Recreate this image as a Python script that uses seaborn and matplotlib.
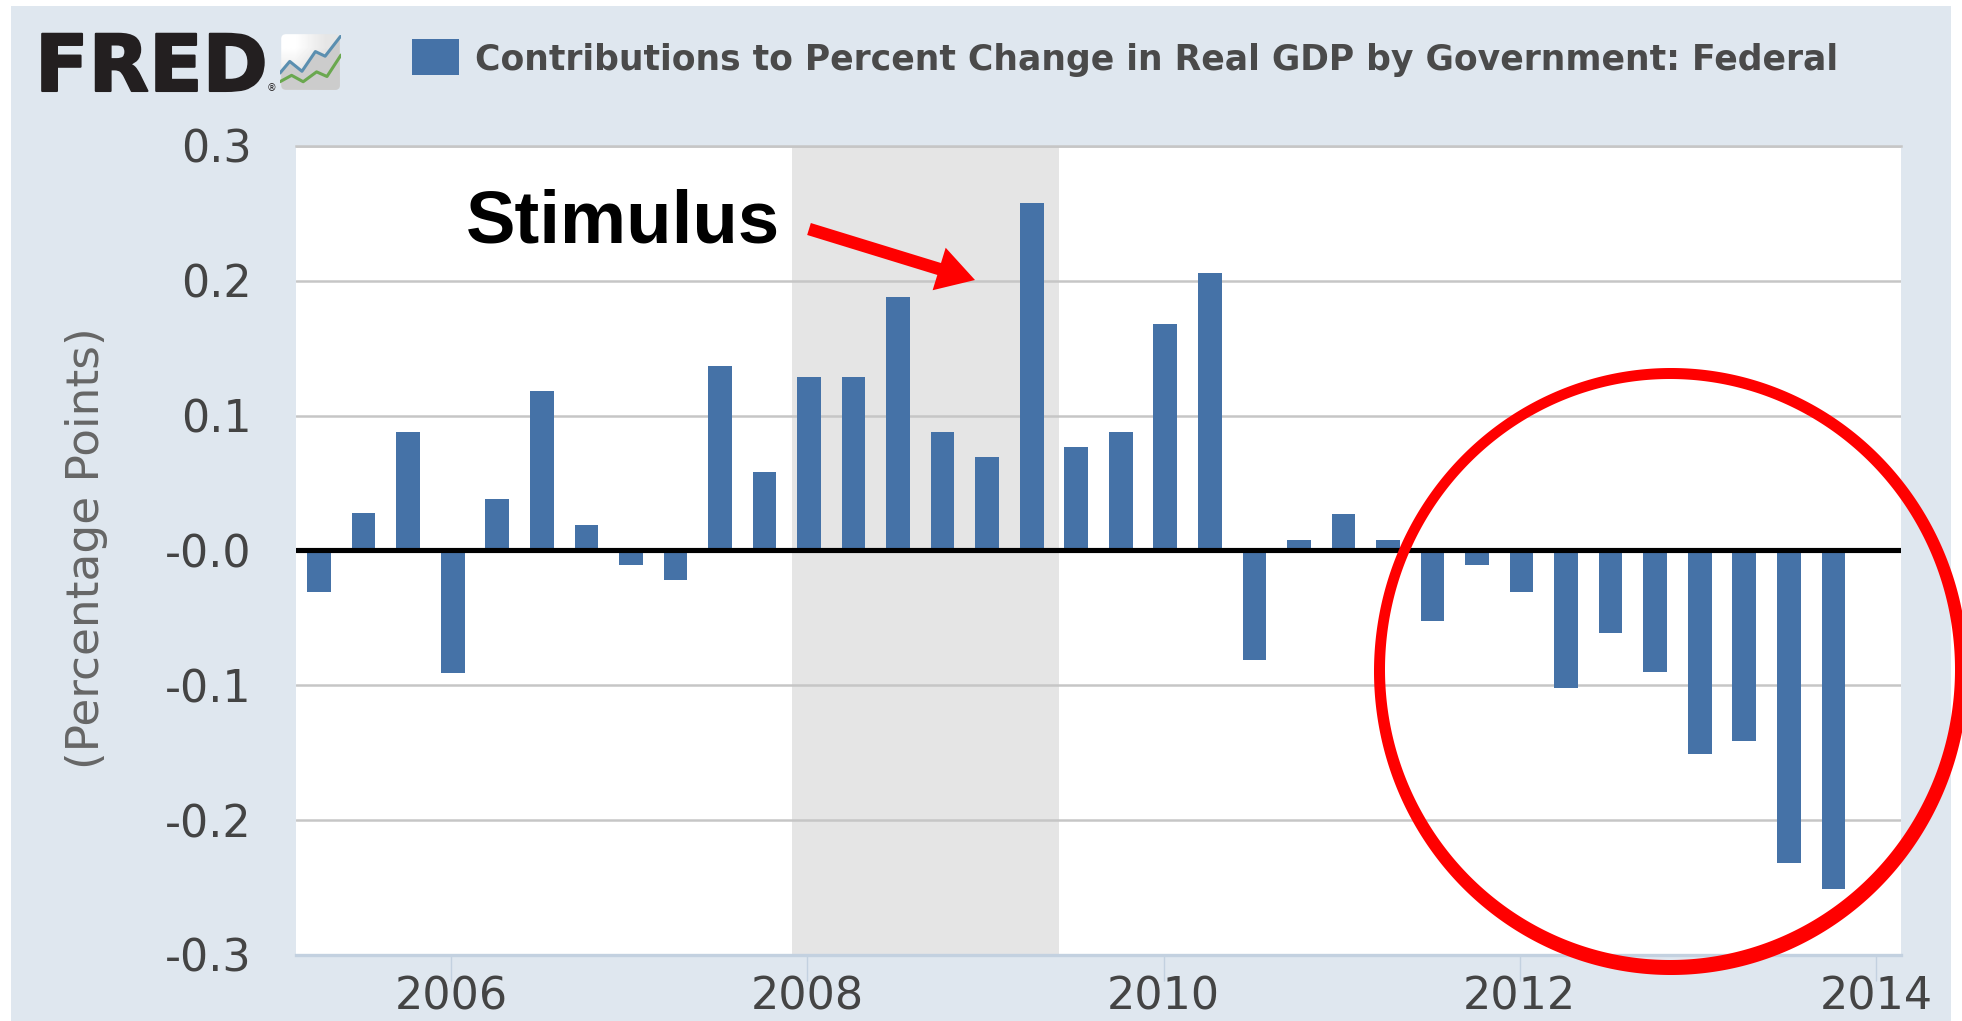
import matplotlib
matplotlib.use("Agg")
import matplotlib.pyplot as plt
from matplotlib.patches import Rectangle, FancyBboxPatch, FancyArrowPatch, PathPatch
from matplotlib.path import Path
import matplotlib.patheffects as pe
import numpy as np
import seaborn as sns
import pandas as pd

W, H = 1962, 1021
years = [2005.26 + i * 0.25 for i in range(35)]
values = [-0.031, 0.028, 0.088, -0.091, 0.038, 0.118, 0.019, -0.011, -0.022, 0.137, 0.058, 0.129,
          0.129, 0.188, 0.088, 0.069, 0.258, 0.077, 0.088, 0.168, 0.206, -0.081, 0.008, 0.027, 0.008,
          -0.052, -0.011, -0.031, -0.102, -0.061, -0.09, -0.151, -0.141, -0.232, -0.251]
yticks = [-0.3, -0.2, -0.1, 0.0, 0.1, 0.2, 0.3]
ylabels = ["-0.3", "-0.2", "-0.1", "-0.0", "0.1", "0.2", "0.3"]
xticks = [2006, 2008, 2010, 2012, 2014]
recession = (2007.915, 2009.414)
icon_x_blue = [0, .16, .36, .58, .74, .99]
icon_blue = [.31, .51, .34, .68, .60, .94]
icon_x_green = [0, .19, .38, .60, .77, 1.0]
icon_green = [.16, .27, .16, .33, .25, .62]

BG = "#dfe7ef"
BLUE = "#4572a7"
TXT = "#444444"
RED = "#ff0000"

sns.set_theme(style="white")
plt.rcParams["font.family"] = ["DejaVu Sans"]


def fx(px):
    return px / W


def fy(px):
    return 1 - px / H


fig = plt.figure(figsize=(W / 100, H / 100), dpi=100, facecolor="white")
fig.add_artist(Rectangle((fx(11), 0), 1940 / W, 1 - 6 / H, transform=fig.transFigure,
                         facecolor=BG, edgecolor="none", zorder=-5))

ax = fig.add_axes([fx(296), fy(955), (1901 - 296) / W, (955 - 146) / H], facecolor="white")
df = pd.DataFrame({"year": years, "value": values})
ax.axvspan(*recession, facecolor="#e5e5e5", edgecolor="none", zorder=0)
sns.barplot(data=df, x="year", y="value", native_scale=True, width=0.53, color=BLUE,
            saturation=1, ax=ax, zorder=3, errorbar=None, edgecolor="none", linewidth=0)
ax.set_xlim(2005.13, 2014.14)
ax.set_ylim(-0.3, 0.3)
ax.set_yticks(yticks, ylabels)
ax.set_xticks(xticks, [str(x) for x in xticks])
ax.grid(axis="y", color="#c6c6c6", lw=1.8, zorder=1)
ax.set_axisbelow(True)
ax.axhline(0, color="black", lw=3.7, zorder=4)
for s in ["left", "right"]:
    ax.spines[s].set_visible(False)
ax.spines["top"].set_color("#c6c6c6")
ax.spines["top"].set_linewidth(1.8)
ax.spines["bottom"].set_color("#c3d1e0")
ax.spines["bottom"].set_linewidth(2.4)
ax.tick_params(axis="y", length=0, labelsize=32, labelcolor=TXT, pad=32)
ax.tick_params(axis="x", length=19, width=1.0, color="#c3d1e0", labelsize=32,
               labelcolor=TXT, pad=-4, bottom=True)
ax.set_xlabel("")
ax.set_ylabel("")
fig.text(fx(87), fy(548), "(Percentage Points)", rotation=90, ha="center", va="center",
         fontsize=32.7, color="#666666")

# Header
fig.text(fx(35), fy(91), "FRED", fontsize=56.5, fontweight="bold",
         color="#231f20", ha="left", va="baseline",
         path_effects=[pe.withStroke(linewidth=1.5, foreground="#231f20")])
fig.text(fx(272), fy(91), "®", fontsize=7, color="#231f20", ha="center", va="baseline")
iax = fig.add_axes([fx(280), fy(91), 61 / W, 58 / H], facecolor="none")
box = FancyBboxPatch((0.02, 0.02), 0.96, 0.96, boxstyle="round,pad=0,rounding_size=0.08",
                     facecolor="none", edgecolor="none", transform=iax.transData)
iax.add_patch(box)
grad = np.array([[1.0, 0.9], [0.9, 0.82]])
im = iax.imshow(grad, extent=(0, 1, 0, 1), cmap="gray", vmin=0, vmax=1, aspect="auto",
                interpolation="bilinear", zorder=1)
im.set_clip_path(box)
fill = iax.fill_between(icon_x_blue, 0, icon_blue, color="#cccccc", lw=0, zorder=2)
fill.set_clip_path(box)
sns.lineplot(x=icon_x_blue, y=icon_blue, color="#5b8fb0", lw=2.2, ax=iax, legend=False, zorder=3)
sns.lineplot(x=icon_x_green, y=icon_green, color="#6aa84f", lw=2.2, ax=iax, legend=False, zorder=3)
iax.set_xlim(0, 1)
iax.set_ylim(0, 1)
iax.set_axis_off()

fig.add_artist(Rectangle((fx(412), fy(75)), 47 / W, 36 / H, transform=fig.transFigure,
                         facecolor=BLUE, edgecolor="none"))
fig.text(fx(475), fy(60), "Contributions to Percent Change in Real GDP by Government: Federal",
         fontsize=24.9, fontweight="bold", color="#4a4a4a", ha="left", va="center")

# Annotations
fig.text(fx(466), fy(223), "Stimulus", fontsize=53.6, fontweight="bold", family="Liberation Sans",
         color="black", ha="left", va="center")
fig.add_artist(FancyArrowPatch(
    (fx(809), fy(229)), (fx(975), fy(280)), transform=fig.transFigure,
    arrowstyle="simple,head_length=27,head_width=32,tail_width=9", mutation_scale=1,
    facecolor=RED, edgecolor="none", lw=0, shrinkA=0, shrinkB=0, zorder=10))


def ellipse_path(left, right, top, bottom, reverse=False):
    t = np.linspace(0, 2 * np.pi, 721)
    if reverse:
        t = t[::-1]
    x = (left + right) / 2 + (right - left) / 2 * np.cos(t)
    y = (top + bottom) / 2 + (bottom - top) / 2 * np.sin(t)
    return Path(np.column_stack([x / W, 1 - y / H]), closed=False)


ring = Path.make_compound_path(ellipse_path(1374, 1968, 368, 975),
                               ellipse_path(1385, 1955, 379, 960, reverse=True))
fig.add_artist(PathPatch(ring, transform=fig.transFigure, facecolor=RED, edgecolor="none", zorder=10))

fig.savefig("out.png", dpi=100, facecolor="white")
